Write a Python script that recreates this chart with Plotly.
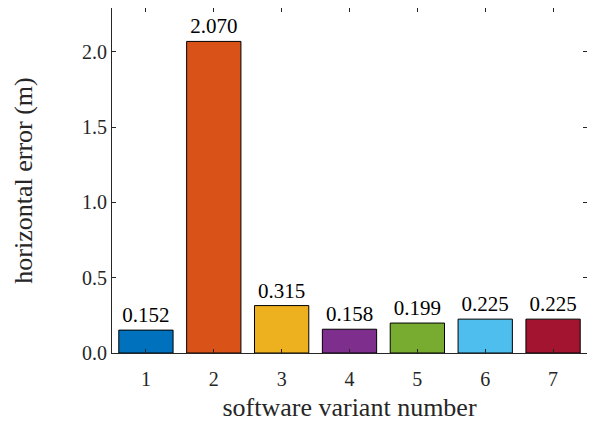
import plotly.graph_objects as go

variants = [1, 2, 3, 4, 5, 6, 7]
errors = [0.152, 2.070, 0.315, 0.158, 0.199, 0.225, 0.225]
labels = ['0.152', '2.070', '0.315', '0.158', '0.199', '0.225', '0.225']
colors = ['#0072BD', '#D95319', '#EDB120', '#7E2F8E', '#77AC30', '#4DBEEE', '#A2142F']

font = '"Times New Roman", "Liberation Serif", "DejaVu Serif", serif'

fig = go.Figure(go.Bar(
    x=variants, y=errors, width=0.8,
    text=labels, textposition='outside', cliponaxis=False,
    textfont=dict(family=font, size=21, color='black'),
    marker=dict(color=colors, line=dict(color='black', width=1)),
))

axis_common = dict(
    showline=True, linecolor='#262626', linewidth=1.2, mirror='ticks',
    ticks='inside', ticklen=4, tickcolor='#262626', showgrid=False, zeroline=False,
    tickfont=dict(family=font, size=20, color='#262626'),
)

# page body has an 8px margin, so the figure is sized to sit inside the window
fig.update_layout(
    width=579, height=414,
    margin=dict(l=104, r=0, t=0, b=69),
    plot_bgcolor='white', paper_bgcolor='white',
    showlegend=False,
    font=dict(family=font),
    xaxis=dict(range=[0.5, 7.5], tickvals=variants, ticklabelstandoff=8,
               title=dict(text='software variant number',
                          font=dict(family=font, size=26, color='#262626'), standoff=12),
               **axis_common),
    yaxis=dict(range=[0, 2.292], tickvals=[0, 0.5, 1.0, 1.5, 2.0], tickformat='.1f',
               title=dict(text='horizontal error (m)', font=dict(family=font, size=26, color='#262626'),
                          standoff=41), **axis_common),
)

fig.write_html('out.html')
